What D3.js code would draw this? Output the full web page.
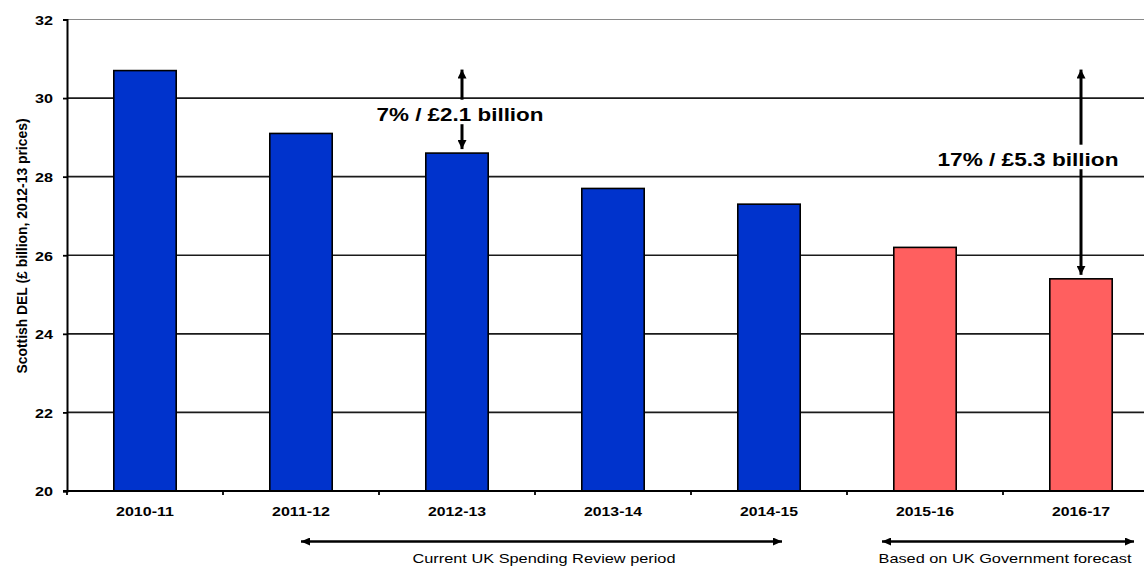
<!DOCTYPE html>
<html>
<head>
<meta charset="utf-8">
<script src="https://cdn.jsdelivr.net/npm/d3@7/dist/d3.min.js"></script>
<style>
  html, body { margin: 0; padding: 0; background: #fff; }
  svg { display: block; }
  text { font-family: "Liberation Sans", Arial, sans-serif; fill: #000; }
</style>
</head>
<body>
<svg id="chart" width="1144" height="567"></svg>
<script>
// Scottish DEL, £ billion at 2012-13 prices
const years = ["2010-11", "2011-12", "2012-13", "2013-14", "2014-15", "2015-16", "2016-17"];
const spending = [30.7, 29.1, 28.6, 27.7, 27.3, 26.2, 25.4];
const isForecast = [false, false, false, false, false, true, true];
const yTicks = [20, 22, 24, 26, 28, 30, 32];
const cuts = [
  { year: "2012-13", label: "7% / £2.1 billion" },
  { year: "2016-17", label: "17% / £5.3 billion" }
];
const periods = [
  { from: "2011-12", to: "2014-15", label: "Current UK Spending Review period" },
  { from: "2015-16", to: "2016-17", label: "Based on UK Government forecast" }
];

const svg = d3.select("#chart");
const W = 1144;
const plotLeft = 67, plotTop = 19.5, plotBottom = 491;

const x = d3.scaleBand().domain(years).range([plotLeft, 1159]).paddingInner(0.6).paddingOuter(0.3);
const y = d3.scaleLinear().domain([20, 32]).range([plotBottom, plotTop]);

const blue = "#0033CC", red = "#FF5F5F";

// Arrowhead markers
const defs = svg.append("defs");
function marker(id, w, h) {
  defs.append("marker")
    .attr("id", id).attr("viewBox", `0 0 ${w} ${h}`)
    .attr("refX", w).attr("refY", h / 2)
    .attr("markerWidth", w).attr("markerHeight", h)
    .attr("markerUnits", "userSpaceOnUse")
    .attr("orient", "auto-start-reverse")
    .append("path").attr("d", `M0,0L${w},${h / 2}L0,${h}Z`).attr("fill", "#000");
}
marker("head", 9, 9);
marker("headSmall", 9, 8);

// Gridlines
svg.append("g").selectAll("line").data(yTicks.filter(d => d !== 20)).join("line")
  .attr("x1", plotLeft).attr("x2", W)
  .attr("y1", d => y(d)).attr("y2", d => y(d))
  .attr("stroke", d => d === 32 ? "#8a8a8a" : "#1a1a1a")
  .attr("stroke-width", d => d === 32 ? 1.2 : 1.6);

// Bars
svg.append("g").selectAll("rect").data(years).join("rect")
  .attr("x", d => x(d))
  .attr("width", x.bandwidth())
  .attr("y", (d, i) => y(spending[i]))
  .attr("height", (d, i) => y(20) - y(spending[i]))
  .attr("fill", (d, i) => isForecast[i] ? red : blue)
  .attr("stroke", "#000").attr("stroke-width", 1.6);

// Y axis
const yAxis = svg.append("g").attr("transform", `translate(${plotLeft},0)`)
  .call(d3.axisLeft(y).tickValues(yTicks).tickSize(4).tickPadding(10).tickFormat(d3.format("d")));
yAxis.select(".domain").attr("stroke", "#000").attr("stroke-width", 2);
yAxis.selectAll(".tick line").attr("stroke", "#000").attr("stroke-width", 1.8);
yAxis.selectAll(".tick text")
  .attr("font-size", 13.5).attr("font-weight", "bold").attr("dy", "0.36em")
  .attr("font-family", "Liberation Sans, Arial, sans-serif")
  .attr("textLength", 18).attr("lengthAdjust", "spacingAndGlyphs");

// X axis
const boundaries = d3.range(years.length + 1).map(i => plotLeft + i * x.step());
svg.append("line").attr("x1", plotLeft - 4).attr("x2", W).attr("y1", plotBottom).attr("y2", plotBottom)
  .attr("stroke", "#000").attr("stroke-width", 2);
svg.append("g").selectAll("line").data(boundaries).join("line")
  .attr("x1", d => d).attr("x2", d => d).attr("y1", plotBottom).attr("y2", plotBottom + 4)
  .attr("stroke", "#000").attr("stroke-width", 1.8);
svg.append("g").selectAll("text").data(years).join("text")
  .attr("x", d => x(d) + x.bandwidth() / 2).attr("y", 516)
  .attr("text-anchor", "middle").attr("font-size", 13.5).attr("font-weight", "bold")
  .attr("textLength", 58).attr("lengthAdjust", "spacingAndGlyphs")
  .text(d => d);

// Y axis title
svg.append("text")
  .attr("transform", "translate(27,246) rotate(-90)")
  .attr("text-anchor", "middle").attr("font-size", 14).attr("font-weight", "bold")
  .attr("textLength", 255).attr("lengthAdjust", "spacingAndGlyphs")
  .text("Scottish DEL (£ billion, 2012-13 prices)");

// Reduction annotations: double arrows from the 2010-11 level down to the bar
const peak = spending[0];
const annoLayout = [
  { ax: 462, baseline: 120.7, width: 167, cx: 460 },
  { ax: 1081, baseline: 165.7, width: 181, cx: 1028 }
];
cuts.forEach((c, k) => {
  const v = spending[years.indexOf(c.year)];
  const L = annoLayout[k];
  const g = svg.append("g");
  g.append("line").attr("x1", L.ax).attr("x2", L.ax)
    .attr("y1", L.baseline - 21).attr("y2", y(peak) - 1)
    .attr("stroke", "#000").attr("stroke-width", 3).attr("marker-end", "url(#head)");
  g.append("line").attr("x1", L.ax).attr("x2", L.ax)
    .attr("y1", L.baseline + 3.5).attr("y2", y(v) - 4)
    .attr("stroke", "#000").attr("stroke-width", 3).attr("marker-end", "url(#head)");
  g.append("text").attr("x", L.cx).attr("y", L.baseline)
    .attr("text-anchor", "middle").attr("font-size", 18).attr("font-weight", "bold")
    .attr("textLength", L.width).attr("lengthAdjust", "spacingAndGlyphs")
    .text(c.label);
});

// Period brackets under the axis
const periodLayout = [
  { x1: 293, x2: 783, tx: 544, tw: 263 },
  { x1: 874, x2: 1135, tx: 1005, tw: 253 }
];
periods.forEach((p, k) => {
  const L = periodLayout[k];
  svg.append("line").attr("x1", L.x1 + 8).attr("x2", L.x2 - 1).attr("y1", 541.5).attr("y2", 541.5)
    .attr("stroke", "#000").attr("stroke-width", 2.5)
    .attr("marker-start", "url(#headSmall)").attr("marker-end", "url(#headSmall)");
  svg.append("text").attr("x", L.tx).attr("y", 562.5)
    .attr("text-anchor", "middle").attr("font-size", 13)
    .attr("textLength", L.tw).attr("lengthAdjust", "spacingAndGlyphs")
    .text(p.label);
});
</script>
</body>
</html>
